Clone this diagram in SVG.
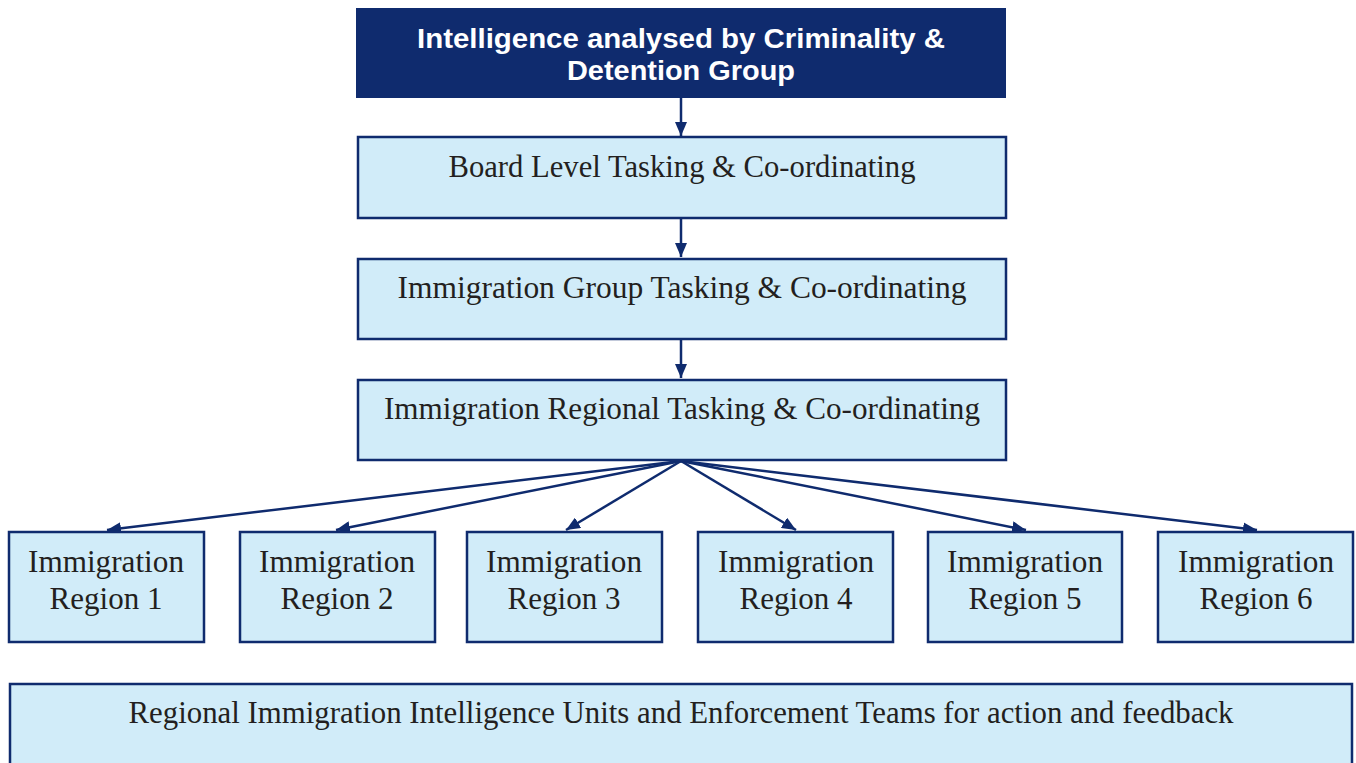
<svg xmlns="http://www.w3.org/2000/svg" width="1356" height="763" viewBox="0 0 1356 763">
<defs>
<marker id="ah" viewBox="0 0 14 12" refX="14" refY="6" markerWidth="14" markerHeight="12" markerUnits="userSpaceOnUse" orient="auto">
<path d="M0,0 L14,6 L0,12 z" fill="#0f2b6e"/>
</marker>
<style>
.box{fill:#d1ecf9;stroke:#0f2b6e;stroke-width:2.5}
.dark{fill:#0f2b6e;stroke:none}
.t{font-family:"Liberation Serif","DejaVu Serif",serif;font-size:31px;fill:#231f20;text-anchor:middle}
.h{font-family:"Liberation Sans","DejaVu Sans",sans-serif;font-weight:bold;font-size:28px;fill:#ffffff;text-anchor:middle}
.c{fill:none;stroke:#0f2b6e;stroke-width:2.5;marker-end:url(#ah)}
</style>
</defs>
<rect width="1356" height="763" fill="#ffffff"/>
<g id="connectors">
<line class="c" x1="681" y1="98" x2="681" y2="136"/>
<line class="c" x1="681" y1="218" x2="681" y2="257"/>
<line class="c" x1="681" y1="339" x2="681" y2="378"/>
<line class="c" x1="681" y1="461" x2="107" y2="530"/>
<line class="c" x1="681" y1="461" x2="336" y2="530"/>
<line class="c" x1="681" y1="461" x2="566" y2="530"/>
<line class="c" x1="681" y1="461" x2="796" y2="530"/>
<line class="c" x1="681" y1="461" x2="1026" y2="530"/>
<line class="c" x1="681" y1="461" x2="1257" y2="530"/>
</g>
<g id="n0">
<rect class="dark" x="356" y="8" width="650" height="90"/>
<text class="h" x="681" y="48" textLength="528" lengthAdjust="spacingAndGlyphs">Intelligence analysed by Criminality &amp;</text>
<text class="h" x="681" y="80" textLength="228" lengthAdjust="spacingAndGlyphs">Detention Group</text>
</g>
<g id="n1">
<rect class="box" x="358" y="137" width="648" height="81"/>
<text class="t" x="682" y="177" textLength="467" lengthAdjust="spacingAndGlyphs">Board Level Tasking &amp; Co-ordinating</text>
</g>
<g id="n2">
<rect class="box" x="358" y="259" width="648" height="80"/>
<text class="t" x="682" y="298" textLength="569" lengthAdjust="spacingAndGlyphs">Immigration Group Tasking &amp; Co-ordinating</text>
</g>
<g id="n3">
<rect class="box" x="358" y="380" width="648" height="80"/>
<text class="t" x="682" y="419" textLength="596" lengthAdjust="spacingAndGlyphs">Immigration Regional Tasking &amp; Co-ordinating</text>
</g>
<g id="r1">
<rect class="box" x="9" y="532" width="195" height="110"/>
<text class="t" x="106" y="572" textLength="156" lengthAdjust="spacingAndGlyphs">Immigration</text>
<text class="t" x="106" y="609">Region 1</text>
</g>
<g id="r2">
<rect class="box" x="240" y="532" width="195" height="110"/>
<text class="t" x="337" y="572" textLength="156" lengthAdjust="spacingAndGlyphs">Immigration</text>
<text class="t" x="337" y="609">Region 2</text>
</g>
<g id="r3">
<rect class="box" x="467" y="532" width="195" height="110"/>
<text class="t" x="564" y="572" textLength="156" lengthAdjust="spacingAndGlyphs">Immigration</text>
<text class="t" x="564" y="609">Region 3</text>
</g>
<g id="r4">
<rect class="box" x="698" y="532" width="195" height="110"/>
<text class="t" x="796" y="572" textLength="156" lengthAdjust="spacingAndGlyphs">Immigration</text>
<text class="t" x="796" y="609">Region 4</text>
</g>
<g id="r5">
<rect class="box" x="928" y="532" width="194" height="110"/>
<text class="t" x="1025" y="572" textLength="156" lengthAdjust="spacingAndGlyphs">Immigration</text>
<text class="t" x="1025" y="609">Region 5</text>
</g>
<g id="r6">
<rect class="box" x="1158" y="532" width="195" height="110"/>
<text class="t" x="1256" y="572" textLength="156" lengthAdjust="spacingAndGlyphs">Immigration</text>
<text class="t" x="1256" y="609">Region 6</text>
</g>
<g id="n4">
<rect class="box" x="10" y="684" width="1342" height="90"/>
<text class="t" x="681" y="723" textLength="1105" lengthAdjust="spacingAndGlyphs">Regional Immigration Intelligence Units and Enforcement Teams for action and feedback</text>
</g>
</svg>
